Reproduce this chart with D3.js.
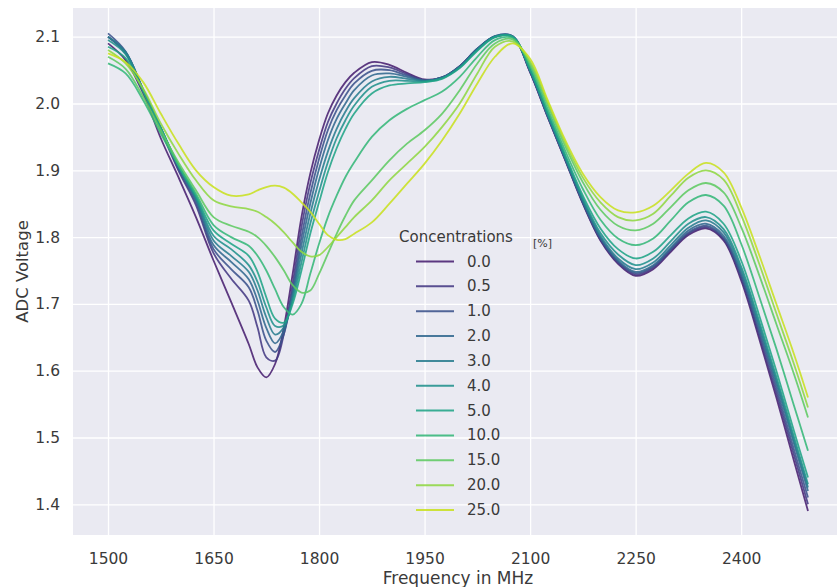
<!DOCTYPE html>
<html>
<head>
  <meta charset="utf-8">
  <title>ADC Voltage vs Frequency</title>
  <script type="text/javascript" src="https://cdn.jsdelivr.net/npm/d3@7/dist/d3.min.js"></script>
  <style>
    body {
      margin: 0;
      background: #ffffff;
    }
    text {
      font-family: "DejaVu Sans", sans-serif;
      fill: #3a3a3a;
    }
  </style>
</head>
<body>
  <svg id="chart"></svg>
  <script>
    // sweep frequencies in MHz (denser around the absorption dip)
    var frequencies = [1500, 1525, 1550, 1575, 1600, 1625, 1650, 1675, 1700,
      1712.5, 1725, 1737.5, 1750, 1762.5, 1775, 1787.5, 1800, 1812.5, 1825, 1837.5, 1850,
      1875, 1900, 1925, 1950, 1975, 2000, 2025, 2050, 2075, 2100,
      2125, 2150, 2175, 2200, 2225, 2250, 2275, 2300, 2325, 2350,
      2375, 2400, 2425, 2450, 2475, 2495];

    var concentrations = ["0.0", "0.5", "1.0", "2.0", "3.0", "4.0", "5.0", "10.0", "15.0", "20.0", "25.0"];

    // ADC voltage per concentration
    var v00 = [2.09, 2.065, 2.015, 1.948, 1.89, 1.83, 1.765, 1.703, 1.64,
      1.605, 1.59, 1.61, 1.665, 1.745, 1.83, 1.895, 1.945, 1.985, 2.012, 2.032, 2.046,
      2.062, 2.058, 2.046, 2.036, 2.039, 2.056, 2.082, 2.1, 2.1, 2.047,
      1.98, 1.915, 1.85, 1.795, 1.76, 1.742, 1.752, 1.778, 1.803, 1.813,
      1.795, 1.735, 1.65, 1.56, 1.465, 1.39];
    var v05 = [2.1, 2.075, 2.02, 1.96, 1.9, 1.848, 1.776, 1.738, 1.705,
      1.665, 1.62, 1.615, 1.655, 1.73, 1.815, 1.88, 1.93, 1.972, 2.0, 2.022, 2.038,
      2.056, 2.054, 2.044, 2.035, 2.039, 2.056, 2.082, 2.1, 2.1, 2.047,
      1.98, 1.916, 1.851, 1.796, 1.762, 1.744, 1.754, 1.78, 1.805, 1.815,
      1.797, 1.739, 1.655, 1.567, 1.474, 1.4];
    var v10 = [2.105, 2.078, 2.02, 1.962, 1.902, 1.852, 1.782, 1.752, 1.725,
      1.69, 1.645, 1.628, 1.655, 1.72, 1.8, 1.865, 1.917, 1.96, 1.99, 2.012, 2.03,
      2.049, 2.05, 2.042, 2.035, 2.039, 2.056, 2.082, 2.101, 2.101, 2.048,
      1.981, 1.916, 1.852, 1.798, 1.763, 1.746, 1.756, 1.782, 1.807, 1.817,
      1.799, 1.742, 1.66, 1.574, 1.482, 1.41];
    var v20 = [2.1, 2.077, 2.02, 1.963, 1.905, 1.856, 1.788, 1.763, 1.737,
      1.705, 1.664, 1.641, 1.66, 1.715, 1.788, 1.85, 1.902, 1.945, 1.977, 2.0, 2.02,
      2.042, 2.045, 2.04, 2.034, 2.039, 2.055, 2.082, 2.101, 2.101, 2.049,
      1.982, 1.917, 1.853, 1.799, 1.765, 1.748, 1.758, 1.784, 1.81, 1.82,
      1.802, 1.746, 1.666, 1.581, 1.491, 1.42];
    var v30 = [2.1, 2.077, 2.021, 1.964, 1.906, 1.858, 1.795, 1.772, 1.748,
      1.72, 1.68, 1.654, 1.665, 1.71, 1.775, 1.835, 1.885, 1.928, 1.962, 1.988, 2.008,
      2.033, 2.04, 2.037, 2.034, 2.038, 2.055, 2.081, 2.1, 2.1, 2.05,
      1.983, 1.918, 1.855, 1.802, 1.768, 1.752, 1.762, 1.788, 1.814, 1.825,
      1.807, 1.751, 1.671, 1.586, 1.496, 1.425];
    var v40 = [2.095, 2.074, 2.02, 1.964, 1.907, 1.86, 1.802, 1.782, 1.758,
      1.733, 1.695, 1.667, 1.668, 1.705, 1.762, 1.82, 1.868, 1.912, 1.948, 1.975, 1.997,
      2.025, 2.034, 2.034, 2.033, 2.038, 2.054, 2.08, 2.1, 2.1, 2.05,
      1.984, 1.92, 1.858, 1.806, 1.774, 1.758, 1.768, 1.794, 1.82, 1.83,
      1.812, 1.756, 1.676, 1.591, 1.501, 1.43];
    var v50 = [2.085, 2.068, 2.018, 1.963, 1.908, 1.862, 1.81, 1.79, 1.772,
      1.748, 1.71, 1.678, 1.672, 1.7, 1.75, 1.805, 1.852, 1.897, 1.933, 1.962, 1.985,
      2.015, 2.027, 2.03, 2.032, 2.037, 2.053, 2.079, 2.099, 2.1, 2.052,
      1.987, 1.923, 1.862, 1.813, 1.782, 1.768, 1.778, 1.803, 1.828, 1.838,
      1.82, 1.765, 1.685, 1.6, 1.51, 1.44];
    var v100 = [2.06, 2.045, 2.005, 1.955, 1.908, 1.865, 1.818, 1.8, 1.787,
      1.772, 1.75, 1.722, 1.695, 1.684, 1.7, 1.745, 1.79, 1.83, 1.862, 1.89, 1.912,
      1.95, 1.975, 1.992, 2.005, 2.018, 2.04, 2.07, 2.095, 2.098, 2.056,
      1.992, 1.929, 1.872, 1.826, 1.798, 1.788, 1.798, 1.825, 1.852, 1.863,
      1.847, 1.79, 1.713, 1.633, 1.548, 1.48];
    var v150 = [2.07, 2.052, 2.01, 1.96, 1.912, 1.87, 1.83, 1.817, 1.808,
      1.8, 1.787, 1.77, 1.75, 1.728, 1.717, 1.72, 1.745, 1.775, 1.805, 1.832, 1.855,
      1.885, 1.915, 1.94, 1.96, 1.985, 2.02, 2.06, 2.09, 2.096, 2.06,
      1.998, 1.936, 1.882, 1.841, 1.817, 1.81, 1.82, 1.845, 1.87, 1.881,
      1.867, 1.815, 1.745, 1.67, 1.595, 1.53];
    var v200 = [2.08, 2.06, 2.022, 1.97, 1.925, 1.885, 1.855, 1.846, 1.842,
      1.838, 1.83, 1.82, 1.807, 1.792, 1.778, 1.771, 1.773, 1.785, 1.8, 1.815, 1.83,
      1.855, 1.885, 1.91, 1.935, 1.965, 2.0, 2.045, 2.085, 2.093, 2.063,
      2.002, 1.941, 1.889, 1.852, 1.83, 1.825, 1.835, 1.862, 1.889, 1.9,
      1.886, 1.833, 1.762, 1.686, 1.61, 1.545];
    var v250 = [2.075, 2.062, 2.032, 1.985, 1.94, 1.9, 1.875, 1.862, 1.864,
      1.87, 1.875, 1.877, 1.874, 1.865, 1.852, 1.838, 1.82, 1.803, 1.796, 1.797, 1.805,
      1.822, 1.85, 1.88, 1.91, 1.945, 1.985, 2.03, 2.07, 2.09, 2.067,
      2.005, 1.945, 1.895, 1.86, 1.84, 1.837, 1.847, 1.87, 1.895, 1.911,
      1.897, 1.845, 1.775, 1.7, 1.625, 1.56];

    var series = [v00, v05, v10, v20, v30, v40, v50, v100, v150, v200, v250];

    var xTicks = [1500, 1650, 1800, 1950, 2100, 2250, 2400];
    var yTicks = [1.4, 1.5, 1.6, 1.7, 1.8, 1.9, 2.0, 2.1];

    var width = 837,
        height = 587;
    var plot = {left: 73, right: 843, top: 8, bottom: 535};

    var svg = d3.select("#chart")
        .attr("width", width)
        .attr("height", height);

    var x = d3.scaleLinear()
        .domain([1450.25, 2544.75])
        .range([plot.left, plot.right]);
    var y = d3.scaleLinear()
        .domain([1.354, 2.143])
        .range([plot.bottom, plot.top]);

    // seaborn style viridis palette, ends trimmed
    var color = d3.scaleOrdinal()
        .domain(concentrations)
        .range(concentrations.map(function(c, i) {
            return d3.interpolateViridis((i + 1) / (concentrations.length + 1));
        }));

    svg.append("defs").append("clipPath")
        .attr("id", "plot-clip")
      .append("rect")
        .attr("x", plot.left)
        .attr("y", plot.top)
        .attr("width", plot.right - plot.left)
        .attr("height", plot.bottom - plot.top);

    // darkgrid background
    svg.append("rect")
        .attr("x", plot.left)
        .attr("y", plot.top)
        .attr("width", plot.right - plot.left)
        .attr("height", plot.bottom - plot.top)
        .attr("fill", "#eaeaf2");

    // gridlines + tick labels
    var xAxis = svg.append("g")
        .attr("transform", "translate(0," + plot.bottom + ")")
        .call(d3.axisBottom(x)
            .tickValues(xTicks)
            .tickSize(-(plot.bottom - plot.top))
            .tickPadding(18)
            .tickFormat(d3.format("d")));
    var yAxis = svg.append("g")
        .attr("transform", "translate(" + plot.left + ",0)")
        .call(d3.axisLeft(y)
            .tickValues(yTicks)
            .tickSize(-(plot.right - plot.left))
            .tickPadding(13)
            .tickFormat(d3.format(".1f")));

    [xAxis, yAxis].forEach(function(axis) {
        axis.select(".domain").remove();
        axis.selectAll(".tick line")
            .attr("stroke", "#ffffff")
            .attr("stroke-width", 1.3);
        axis.selectAll(".tick text")
            .attr("fill", "#3a3a3a")
            .style("font-size", "15.5px")
            .style("font-family", "DejaVu Sans, sans-serif");
    });

    // curves
    var line = d3.line()
        .x(function(d, i) { return x(frequencies[i]); })
        .y(function(d) { return y(d); })
        .curve(d3.curveCatmullRom.alpha(0.5));

    svg.append("g")
        .attr("clip-path", "url(#plot-clip)")
      .selectAll("path")
      .data(series)
      .join("path")
        .attr("d", line)
        .attr("fill", "none")
        .attr("stroke", function(d, i) { return color(concentrations[i]); })
        .attr("stroke-width", 1.8)
        .attr("stroke-opacity", 0.88)
        .attr("stroke-linejoin", "round");

    // axis labels
    svg.append("text")
        .attr("x", (plot.left + plot.right) / 2)
        .attr("y", 578)
        .attr("text-anchor", "middle")
        .attr("dominant-baseline", "central")
        .style("font-size", "17px")
        .text("Frequency in MHz");

    svg.append("text")
        .attr("transform", "translate(22," + (plot.top + plot.bottom) / 2 + ") rotate(-90)")
        .attr("text-anchor", "middle")
        .attr("dominant-baseline", "central")
        .style("font-size", "16.5px")
        .text("ADC Voltage");

    // legend, no frame
    var legend = svg.append("g");
    legend.append("text")
        .attr("x", 399)
        .attr("y", 237)
        .attr("dominant-baseline", "central")
        .style("font-size", "15px")
        .text("Concentrations");
    legend.append("text")
        .attr("x", 533)
        .attr("y", 243)
        .attr("dominant-baseline", "central")
        .style("font-size", "11px")
        .text("[%]");

    var rows = legend.selectAll("g.row")
      .data(concentrations)
      .join("g")
        .attr("class", "row")
        .attr("transform", function(d, i) { return "translate(0," + (261.5 + i * 24.85) + ")"; });
    rows.append("line")
        .attr("x1", 416)
        .attr("x2", 454)
        .attr("stroke", function(d) { return color(d); })
        .attr("stroke-width", 2)
        .attr("stroke-opacity", 0.88);
    rows.append("text")
        .attr("x", 467)
        .attr("dominant-baseline", "central")
        .style("font-size", "15px")
        .text(function(d) { return d; });
  </script>
</body>
</html>
